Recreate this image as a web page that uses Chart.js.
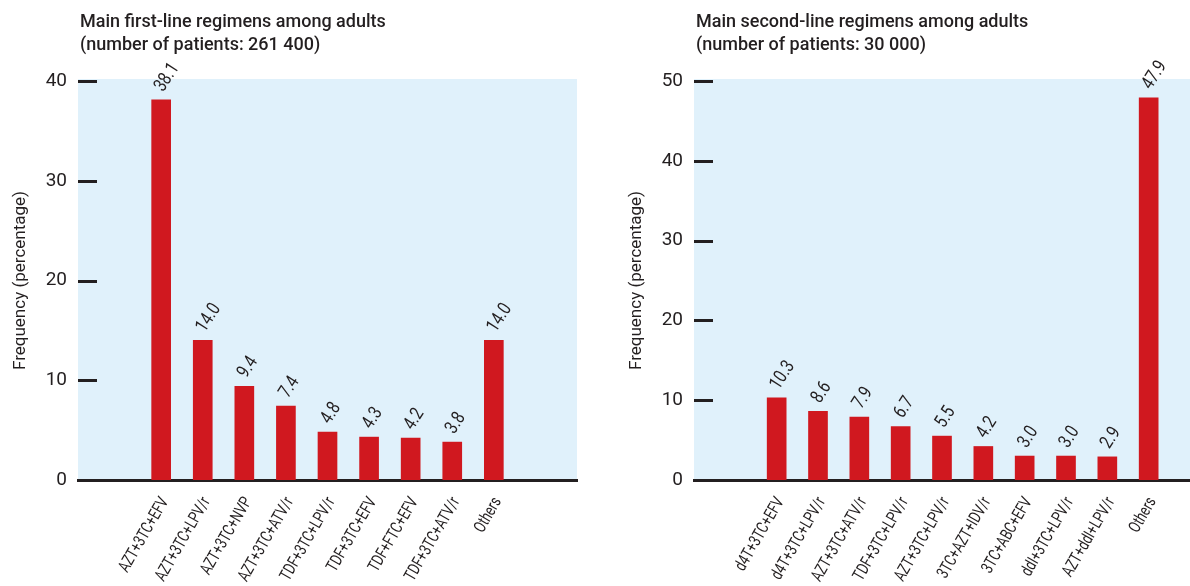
<!DOCTYPE html>
<html>
<head>
<meta charset="utf-8">
<script src="https://cdn.jsdelivr.net/npm/chart.js@4.4.1/dist/chart.umd.min.js"></script>
<style>
  html, body { margin: 0; padding: 0; background: #fff; }
  #wrap { position: relative; width: 1190px; height: 586px; overflow: hidden; }
  .panel { position: absolute; top: 0; height: 586px; }
  .title {
    position: absolute; top: 9px;
    font-family: Roboto, 'DejaVu Sans', sans-serif;
    font-size: 18px; font-weight: 500; line-height: 23px; color: #231f20;
    white-space: nowrap;
  }
</style>
</head>
<body>
<div id="wrap">
  <div class="panel" style="left:0;width:600px"><canvas id="firstLine"></canvas></div>
  <div class="panel" style="left:600px;width:590px"><canvas id="secondLine"></canvas></div>
  <div class="title" style="left:80px">Main first-line regimens among adults<br>(number of patients: 261 400)</div>
  <div class="title" style="left:696px">Main second-line regimens among adults<br>(number of patients: 30 000)</div>
</div>
<script>
// first-line regimens
var firstLabels = ['AZT+3TC+EFV', 'AZT+3TC+LPV/r', 'AZT+3TC+NVP', 'AZT+3TC+ATV/r', 'TDF+3TC+LPV/r',
                   'TDF+3TC+EFV', 'TDF+FTC+EFV', 'TDF+3TC+ATV/r', 'Others'];
var firstValues = [38.1, 14.0, 9.4, 7.4, 4.8, 4.3, 4.2, 3.8, 14.0];
var firstTicks = [0, 10, 20, 30, 40];

// second-line regimens
var secondLabels = ['d4T+3TC+EFV', 'd4T+3TC+LPV/r', 'AZT+3TC+ATV/r', 'TDF+3TC+LPV/r', 'AZT+3TC+LPV/r',
                    '3TC+AZT+IDV/r', '3TC+ABC+EFV', 'ddI+3TC+LPV/r', 'AZT+ddI+LPV/r', 'Others'];
var secondValues = [10.3, 8.6, 7.9, 6.7, 5.5, 4.2, 3.0, 3.0, 2.9, 47.9];
var secondTicks = [0, 10, 20, 30, 40, 50];

var colors = {
    bar: '#d0181f',
    panel: '#e0f1fb',
    ink: '#231f20'
};
var fontFamily = "Roboto, 'DejaVu Sans', sans-serif";
var firstSlot = 2;   // first bar sits two slots in from the left
var slotCount = 12;

// text squeezed horizontally, the source uses a condensed face
function condensedText(ctx, text, x, y, angle, squeeze, align) {
    ctx.save();
    ctx.translate(x, y);
    ctx.rotate(angle * Math.PI / 180);
    ctx.scale(squeeze, 1);
    ctx.textAlign = align;
    ctx.textBaseline = 'middle';
    ctx.fillText(text, 0, 0);
    ctx.restore();
}

// light blue plot background
var panelBg = {
    id: 'panelBg',
    beforeDraw: function(chart) {
        var a = chart.chartArea, ctx = chart.ctx;
        ctx.save();
        ctx.fillStyle = colors.panel;
        ctx.fillRect(a.left, a.top - 2, a.right - a.left, a.bottom - a.top + 2);
        ctx.restore();
    }
};

// short black tick marks inside the plot + slanted category labels
var axisMarks = {
    id: 'axisMarks',
    afterDatasetsDraw: function(chart, args, opts) {
        var y = chart.scales.y, x = chart.scales.x, a = chart.chartArea, ctx = chart.ctx;
        ctx.save();
        ctx.strokeStyle = colors.ink;
        ctx.lineWidth = 3;
        y.ticks.forEach(function(t) {
            if (t.value === 0) return;
            var py = Math.round(y.getPixelForValue(t.value)) + 0.5;
            ctx.beginPath();
            ctx.moveTo(a.left, py);
            ctx.lineTo(a.left + 19, py);
            ctx.stroke();
        });
        ctx.fillStyle = colors.ink;
        ctx.font = '17px ' + fontFamily;
        (opts.labels || []).forEach(function(lbl, i) {
            var px = x.getPixelForValue(i + firstSlot);
            condensedText(ctx, lbl, px + 4, a.bottom + 19, -60, 0.75, 'right');
        });
        ctx.restore();
    }
};

// rotated value labels above the bars
var valueLabels = {
    id: 'valueLabels',
    afterDatasetsDraw: function(chart) {
        var ctx = chart.ctx;
        var meta = chart.getDatasetMeta(0);
        var data = chart.data.datasets[0].data;
        ctx.save();
        ctx.fillStyle = colors.ink;
        ctx.font = '19px ' + fontFamily;
        meta.data.forEach(function(bar, i) {
            condensedText(ctx, data[i].y.toFixed(1), bar.x - 2, bar.y - 10, -57, 0.8, 'left');
        });
        ctx.restore();
    }
};

function makeChart(id, labels, values, ticks, opts) {
    var points = values.map(function(v, i) { return { x: i + firstSlot, y: v }; });
    var ctx = document.getElementById(id).getContext('2d');
    return new Chart(ctx, {
        type: 'bar',
        data: {
            datasets: [{
                data: points,
                backgroundColor: colors.bar,
                barThickness: 19
            }]
        },
        options: {
            responsive: true,
            maintainAspectRatio: false,
            animation: false,
            layout: {
                padding: { top: 81, right: opts.right, bottom: 0, left: 0 }
            },
            plugins: {
                legend: { display: false },
                tooltip: { enabled: false },
                axisMarks: { labels: labels }
            },
            scales: {
                x: {
                    type: 'linear',
                    min: 0,
                    max: slotCount,
                    offset: false,
                    afterFit: function(s) { s.height = 106; },
                    grid: { display: false, drawTicks: false },
                    border: { display: true, color: colors.ink, width: 3 },
                    ticks: { display: false, stepSize: 1 }
                },
                y: {
                    min: 0,
                    max: ticks[ticks.length - 1],
                    afterFit: function(s) { s.width = opts.axisWidth; },
                    afterBuildTicks: function(s) {
                        s.ticks = ticks.map(function(t) { return { value: t }; });
                    },
                    grid: { display: false, drawTicks: false },
                    border: { display: false },
                    title: {
                        display: true,
                        text: 'Frequency (percentage)',
                        color: colors.ink,
                        font: { family: fontFamily, size: 17 },
                        padding: { top: opts.titlePad, bottom: 0 }
                    },
                    ticks: {
                        padding: 11,
                        color: colors.ink,
                        font: { family: fontFamily, size: 19 }
                    }
                }
            }
        },
        plugins: [panelBg, axisMarks, valueLabels]
    });
}

makeChart('firstLine', firstLabels, firstValues, firstTicks, { right: 23, axisWidth: 78, titlePad: 11 });
makeChart('secondLine', secondLabels, secondValues, secondTicks, { right: 0, axisWidth: 94, titlePad: 27 });
</script>
</body>
</html>
